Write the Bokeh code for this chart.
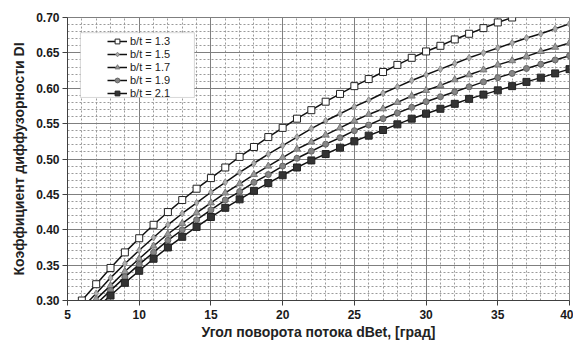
from bokeh.plotting import figure
from bokeh.models import (FixedTicker, Legend, LegendItem, BoxAnnotation,
                          Range1d, PrintfTickFormatter)
from bokeh.embed import file_html
from bokeh.resources import INLINE

# ---- data ----
angle = [6, 7, 8, 9, 10, 11, 12, 13, 14, 15, 16, 17, 18, 19, 20, 21, 22, 23,
         24, 25, 26, 27, 28, 29, 30, 31, 32, 33, 34, 35, 36, 37, 38, 39, 40]

di_13 = [0.300, 0.323, 0.346, 0.368, 0.388, 0.407, 0.425, 0.442, 0.458, 0.473,
         0.488, 0.503, 0.517, 0.531, 0.544, 0.557, 0.569, 0.581, 0.592, 0.603,
         0.613, 0.623, 0.633, 0.643, 0.652, 0.660, 0.669, 0.677, 0.685, 0.693,
         0.700, 0.707, 0.714, 0.721, 0.728]
di_15 = [0.289, 0.310, 0.332, 0.352, 0.371, 0.389, 0.407, 0.423, 0.438, 0.453,
         0.467, 0.481, 0.494, 0.507, 0.519, 0.531, 0.543, 0.554, 0.564, 0.574,
         0.583, 0.593, 0.602, 0.611, 0.619, 0.627, 0.635, 0.643, 0.650, 0.657,
         0.664, 0.671, 0.677, 0.684, 0.691]
di_17 = [0.281, 0.302, 0.321, 0.341, 0.359, 0.377, 0.394, 0.409, 0.424, 0.438,
         0.452, 0.465, 0.478, 0.490, 0.502, 0.514, 0.524, 0.534, 0.544, 0.554,
         0.563, 0.571, 0.580, 0.589, 0.597, 0.604, 0.612, 0.619, 0.626, 0.633,
         0.639, 0.645, 0.652, 0.658, 0.664]
di_19 = [0.276, 0.295, 0.314, 0.333, 0.351, 0.368, 0.385, 0.400, 0.414, 0.428,
         0.442, 0.454, 0.467, 0.478, 0.490, 0.501, 0.511, 0.521, 0.530, 0.540,
         0.548, 0.557, 0.565, 0.573, 0.581, 0.588, 0.595, 0.602, 0.609, 0.615,
         0.621, 0.628, 0.634, 0.640, 0.646]
di_21 = [0.270, 0.289, 0.307, 0.325, 0.342, 0.359, 0.375, 0.390, 0.404, 0.418,
         0.431, 0.443, 0.455, 0.466, 0.477, 0.488, 0.498, 0.507, 0.516, 0.525,
         0.533, 0.541, 0.549, 0.557, 0.564, 0.571, 0.578, 0.585, 0.591, 0.597,
         0.603, 0.609, 0.615, 0.621, 0.627]

labels = ["b/t = 1.3", "b/t = 1.5", "b/t = 1.7", "b/t = 1.9", "b/t = 2.1"]
series = [di_13, di_15, di_17, di_19, di_21]

x_major = [5, 10, 15, 20, 25, 30, 35, 40]
x_minor = [6, 7, 8, 9, 11, 12, 13, 14, 16, 17, 18, 19, 21, 22, 23, 24,
           26, 27, 28, 29, 31, 32, 33, 34, 36, 37, 38, 39]
y_major = [0.30, 0.35, 0.40, 0.45, 0.50, 0.55, 0.60, 0.65, 0.70]
y_minor = [0.31, 0.32, 0.33, 0.34, 0.36, 0.37, 0.38, 0.39, 0.41, 0.42, 0.43,
           0.44, 0.46, 0.47, 0.48, 0.49, 0.51, 0.52, 0.53, 0.54, 0.56, 0.57,
           0.58, 0.59, 0.61, 0.62, 0.63, 0.64, 0.66, 0.67, 0.68, 0.69]

FONT = "Liberation Sans"

p = figure(width=573, height=343, x_range=Range1d(5, 40), y_range=Range1d(0.30, 0.70),
           output_backend="svg", toolbar_location=None,
           min_border_left=67, min_border_right=4, min_border_top=17, min_border_bottom=43)
p.background_fill_color = "white"
p.border_fill_color = "white"
p.outline_line_color = "#7f7f7f"

p.xaxis.ticker = FixedTicker(ticks=x_major, minor_ticks=x_minor)
p.yaxis.ticker = FixedTicker(ticks=y_major, minor_ticks=y_minor)
p.yaxis.formatter = PrintfTickFormatter(format="%.2f")

for ax in (p.xaxis, p.yaxis):
    ax.axis_line_color = "#404040"
    ax.major_tick_line_color = "#404040"
    ax.major_tick_out = 5
    ax.major_tick_in = 0
    ax.minor_tick_line_color = None
    ax.major_label_text_font = FONT
    ax.major_label_text_font_style = "bold"
    ax.major_label_text_font_size = "12px"
    ax.major_label_text_color = "#1a1a1a"
    ax.axis_label_text_font = FONT
    ax.axis_label_text_font_style = "bold"
    ax.axis_label_text_font_size = "14px"
    ax.axis_label_text_color = "#222222"

p.xaxis.axis_label = "Угол поворота потока dBet, [град]"
p.yaxis.axis_label = "Коэффициент диффузорности DI"
p.xaxis.major_label_standoff = 4
p.xaxis.axis_label_standoff = 2
p.yaxis.major_label_standoff = 3
p.yaxis.axis_label_standoff = 6

for g in (p.xgrid, p.ygrid):
    g.grid_line_color = "#7f7f7f"
    g.grid_line_width = 1
    g.minor_grid_line_color = "#9a9a9a"
    g.minor_grid_line_dash = "2 2"
    g.minor_grid_line_width = 1

styles = [
    dict(marker="square", size=7, fill_color="white", line_color="#222222"),
    dict(marker="diamond", size=7, fill_color="#b0b0b0", line_color="#8a8a8a"),
    dict(marker="triangle", size=7, fill_color="#9a9a9a", line_color="#777777"),
    dict(marker="circle", size=6, fill_color="#858585", line_color="#666666"),
    dict(marker="square", size=7, fill_color="#333333", line_color="#222222"),
]

items = []
for lab, ys, st in zip(labels, series, styles):
    rl = p.line(angle, ys, line_color="#111111", line_width=1.5)
    rs = p.scatter(angle, ys, **st)
    items.append(LegendItem(label=lab, renderers=[rl, rs]))

box = BoxAnnotation(left=5.9, right=13.85, bottom=0.587, top=0.6785,
                    fill_color="white", fill_alpha=1.0,
                    line_color="#7f7f7f", line_width=1)
p.add_layout(box)

# one single-row legend per series, stacked at the reference row pitch
row_offsets = [253, 240, 227, 214, 201]
for item, yoff in zip(items, row_offsets):
    lg = Legend(items=[item], location=(40, yoff), padding=0, margin=0, spacing=0,
                glyph_width=20, glyph_height=12, label_height=12, label_standoff=3,
                label_text_font=FONT, label_text_font_size="11px",
                label_text_color="#222222", background_fill_alpha=0.0,
                border_line_color=None)
    p.add_layout(lg)

open("out.html", "w").write(file_html(p, INLINE))
